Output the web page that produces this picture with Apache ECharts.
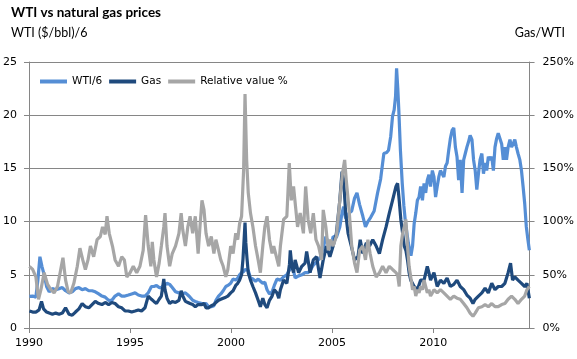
<!DOCTYPE html>
<html>
<head>
<meta charset="utf-8">
<script src="https://cdn.jsdelivr.net/npm/echarts@6/dist/echarts.min.js"></script>
<style>
html,body{margin:0;padding:0;background:#fff;}
#chart{width:577px;height:359px;}
</style>
</head>
<body>
<div id="chart"></div>
<script>
// ---- Data ----
const wtiYears = [1990.02,1990.18,1990.34,1990.44,1990.54,1990.64,1990.75,1990.87,1991.00,1991.16,1991.32,1991.49,1991.65,1991.81,1991.98,1992.14,1992.30,1992.47,1992.63,1992.79,1992.96,1993.12,1993.28,1993.45,1993.61,1993.77,1993.94,1994.10,1994.26,1994.43,1994.59,1994.75,1994.92,1995.08,1995.25,1995.41,1995.57,1995.74,1995.90,1996.06,1996.18,1996.31,1996.44,1996.55,1996.67,1996.83,1996.96,1997.09,1997.25,1997.42,1997.53,1997.74,1997.86,1997.97,1998.10,1998.23,1998.37,1998.56,1998.76,1998.89,1999.02,1999.15,1999.25,1999.38,1999.49,1999.61,1999.74,1999.84,1999.98,2000.10,2000.23,2000.33,2000.42,2000.52,2000.62,2000.69,2000.77,2000.85,2000.96,2001.08,2001.21,2001.34,2001.45,2001.57,2001.67,2001.78,2001.90,2002.03,2002.14,2002.27,2002.44,2002.60,2002.76,2002.93,2003.01,2003.09,2003.17,2003.34,2003.50,2003.66,2003.81,2003.94,2004.07,2004.23,2004.40,2004.56,2004.69,2004.81,2004.92,2005.05,2005.21,2005.38,2005.49,2005.57,2005.67,2005.84,2005.97,2006.11,2006.23,2006.36,2006.52,2006.65,2006.77,2006.91,2007.08,2007.25,2007.40,2007.56,2007.70,2007.79,2007.90,2007.99,2008.07,2008.14,2008.19,2008.25,2008.30,2008.38,2008.47,2008.55,2008.63,2008.77,2008.90,2008.98,2009.06,2009.14,2009.22,2009.30,2009.38,2009.47,2009.55,2009.63,2009.71,2009.79,2009.87,2009.96,2010.04,2010.12,2010.20,2010.28,2010.36,2010.53,2010.61,2010.69,2010.77,2010.85,2010.94,2011.02,2011.10,2011.18,2011.26,2011.34,2011.43,2011.51,2011.59,2011.67,2011.75,2011.83,2011.92,2012.00,2012.08,2012.16,2012.24,2012.32,2012.41,2012.49,2012.57,2012.65,2012.73,2012.81,2012.90,2012.98,2013.06,2013.14,2013.22,2013.31,2013.39,2013.47,2013.55,2013.63,2013.71,2013.80,2013.88,2013.96,2014.04,2014.12,2014.20,2014.29,2014.37,2014.45,2014.53,2014.61,2014.69,2014.76];
const wtiValues = [2.97,3.0,2.9,4.5,6.7,5.8,5.0,3.9,3.4,3.7,3.6,3.7,3.8,3.5,3.3,3.4,3.7,3.8,3.6,3.7,3.5,3.5,3.4,3.2,3.0,2.9,2.6,2.6,3.0,3.2,3.0,3.0,3.1,3.2,3.3,3.1,3.0,3.0,3.3,3.9,3.9,4.0,3.8,3.8,4.0,4.2,4.1,3.8,3.4,3.3,3.2,3.3,3.1,2.9,2.6,2.5,2.4,2.3,2.3,2.0,2.0,2.1,2.6,3.0,3.2,3.5,3.9,4.0,4.2,4.6,4.5,4.7,5.0,5.2,5.3,5.5,5.6,5.4,4.7,4.6,4.4,4.6,4.4,4.2,4.3,3.6,3.2,3.4,4.0,4.6,4.5,4.8,5.0,5.6,6.0,5.4,4.7,4.9,5.0,5.2,5.2,5.5,5.9,6.2,6.6,7.5,8.6,8.0,7.5,8.6,8.5,9.5,10.8,11.4,10.3,10.8,11.0,12.2,12.7,11.6,10.5,9.5,10.0,10.4,11.0,12.7,14.0,16.4,16.5,16.7,18.0,19.9,20.5,21.8,24.4,22.5,20.5,16.7,13.6,11.5,9.9,8.0,6.8,7.7,9.8,10.8,12.0,12.3,13.3,12.0,13.6,12.7,13.9,14.4,13.3,14.8,14.2,12.3,13.3,14.2,14.8,14.2,15.2,15.5,16.7,17.8,18.6,18.8,17.0,16.1,13.9,15.8,12.7,15.8,16.4,17.0,17.5,18.1,17.7,15.8,14.8,13.0,14.5,15.8,16.4,14.5,15.5,14.8,16.1,15.8,16.1,14.8,17.0,17.8,18.3,18.4,17.3,15.8,17.0,15.8,17.0,17.7,17.0,17.3,17.7,17.0,16.4,15.8,14.8,13.3,11.7,9.5,8.3,7.3];

const gasYears = [1990.02,1990.18,1990.34,1990.50,1990.62,1990.72,1990.87,1991.00,1991.16,1991.32,1991.49,1991.65,1991.81,1991.98,1992.14,1992.30,1992.47,1992.63,1992.79,1992.96,1993.12,1993.28,1993.45,1993.61,1993.77,1993.94,1994.10,1994.26,1994.43,1994.59,1994.75,1994.92,1995.08,1995.25,1995.41,1995.57,1995.74,1995.90,1996.06,1996.18,1996.31,1996.44,1996.55,1996.62,1996.67,1996.73,1996.83,1996.96,1997.09,1997.25,1997.42,1997.53,1997.61,1997.74,1997.86,1997.97,1998.10,1998.23,1998.37,1998.46,1998.56,1998.66,1998.76,1998.89,1999.02,1999.15,1999.25,1999.38,1999.49,1999.61,1999.74,1999.84,1999.98,2000.10,2000.23,2000.33,2000.42,2000.52,2000.59,2000.65,2000.69,2000.73,2000.79,2000.85,2000.96,2001.08,2001.21,2001.34,2001.45,2001.57,2001.67,2001.78,2001.90,2002.03,2002.14,2002.27,2002.36,2002.44,2002.60,2002.76,2002.89,2002.93,2003.01,2003.09,2003.17,2003.34,2003.50,2003.66,2003.74,2003.91,2004.07,2004.23,2004.40,2004.56,2004.72,2004.89,2005.05,2005.21,2005.38,2005.49,2005.57,2005.67,2005.79,2005.95,2006.11,2006.28,2006.39,2006.52,2006.69,2006.85,2007.01,2007.18,2007.34,2007.50,2007.67,2007.83,2007.99,2008.16,2008.24,2008.32,2008.40,2008.49,2008.57,2008.65,2008.73,2008.81,2008.89,2009.06,2009.22,2009.38,2009.55,2009.71,2009.79,2009.87,2010.04,2010.20,2010.36,2010.53,2010.69,2010.85,2011.02,2011.18,2011.34,2011.51,2011.67,2011.83,2011.97,2012.08,2012.24,2012.41,2012.57,2012.73,2012.90,2013.06,2013.22,2013.39,2013.55,2013.71,2013.83,2013.93,2014.04,2014.20,2014.37,2014.53,2014.64,2014.76];
const gasValues = [1.6,1.5,1.5,1.7,2.5,1.8,1.5,1.4,1.3,1.4,1.3,1.4,1.9,1.3,1.2,1.5,1.8,2.3,2.0,1.9,2.2,2.5,2.3,2.2,2.4,2.2,2.4,2.3,2.0,1.9,1.6,1.6,1.5,1.6,1.7,1.6,1.9,3.0,2.7,2.5,2.3,2.7,3.0,3.9,4.6,3.6,2.8,2.3,2.5,2.4,2.6,3.5,3.0,2.5,2.4,2.3,2.2,2.0,2.2,2.1,2.2,2.3,1.9,1.9,2.1,2.2,2.4,2.6,2.7,2.8,2.9,3.0,3.3,3.5,4.0,4.2,4.5,5.0,6.5,8.5,9.9,8.0,6.5,5.2,4.5,3.9,3.3,2.6,2.0,2.8,2.2,1.9,2.6,3.0,3.6,3.3,2.8,3.6,4.5,4.2,6.0,7.3,5.8,5.2,6.4,5.2,5.8,6.1,7.2,5.2,6.4,6.7,4.7,6.4,7.7,6.7,7.7,8.9,12.0,14.7,13.9,10.8,8.9,7.7,6.4,6.7,8.3,7.0,8.0,7.7,8.3,7.7,7.0,8.3,9.5,10.8,12.0,13.3,13.6,12.0,10.2,8.9,7.7,7.3,6.4,5.2,4.5,3.9,3.6,4.5,4.5,5.8,5.2,4.5,5.2,3.9,4.5,4.2,4.7,3.9,4.1,4.5,3.9,3.6,3.1,2.8,2.3,2.7,3.0,3.3,3.75,3.3,4.2,3.6,3.9,3.9,4.2,5.2,6.1,4.5,4.8,4.5,4.2,3.9,4.2,2.8];

const relYears = [1990.02,1990.18,1990.34,1990.47,1990.59,1990.75,1990.92,1991.08,1991.24,1991.41,1991.57,1991.68,1991.81,1991.94,1992.06,1992.22,1992.39,1992.52,1992.66,1992.79,1992.92,1993.04,1993.20,1993.37,1993.53,1993.64,1993.77,1993.86,1993.97,1994.13,1994.26,1994.43,1994.59,1994.72,1994.84,1995.00,1995.16,1995.33,1995.49,1995.65,1995.77,1995.90,1996.03,1996.10,1996.18,1996.31,1996.44,1996.55,1996.67,1996.73,1996.83,1996.96,1997.09,1997.25,1997.42,1997.53,1997.61,1997.74,1997.86,1997.97,1998.10,1998.23,1998.37,1998.46,1998.56,1998.66,1998.76,1998.89,1999.02,1999.15,1999.25,1999.38,1999.49,1999.61,1999.74,1999.84,1999.98,2000.10,2000.23,2000.33,2000.42,2000.52,2000.62,2000.69,2000.77,2000.85,2000.96,2001.08,2001.21,2001.34,2001.45,2001.57,2001.67,2001.78,2001.90,2002.03,2002.11,2002.24,2002.36,2002.44,2002.60,2002.76,2002.88,2002.98,2003.09,2003.19,2003.29,2003.42,2003.58,2003.69,2003.81,2003.94,2004.07,2004.20,2004.33,2004.48,2004.56,2004.69,2004.81,2004.92,2005.05,2005.21,2005.38,2005.51,2005.62,2005.70,2005.84,2005.97,2006.11,2006.23,2006.36,2006.52,2006.65,2006.77,2006.88,2007.01,2007.18,2007.34,2007.50,2007.67,2007.83,2007.99,2008.16,2008.24,2008.32,2008.40,2008.49,2008.57,2008.65,2008.73,2008.81,2008.89,2008.98,2009.06,2009.14,2009.22,2009.30,2009.38,2009.47,2009.55,2009.63,2009.71,2009.79,2009.87,2009.96,2010.04,2010.20,2010.36,2010.53,2010.69,2010.85,2011.02,2011.18,2011.34,2011.51,2011.67,2011.83,2011.97,2012.08,2012.24,2012.41,2012.57,2012.73,2012.90,2013.06,2013.22,2013.39,2013.55,2013.71,2013.88,2014.04,2014.20,2014.37,2014.53,2014.64,2014.76];
const relValues = [58,55,48,27,36,52,41,36,33,39,55,66,45,34,33,42,58,75,64,55,64,77,67,83,86,95,88,105,89,77,64,58,67,64,48,52,58,52,58,73,106,77,58,81,64,48,61,77,95,108,77,58,70,77,89,108,92,77,95,105,89,105,70,95,120,111,89,77,86,70,83,73,64,58,48,55,77,70,89,83,98,105,148,220,158,127,108,95,77,64,52,77,95,105,83,70,77,67,58,77,102,105,155,120,133,114,95,108,89,133,102,89,108,83,77,64,111,95,73,83,77,86,120,145,158,139,111,77,61,52,73,77,64,83,70,58,48,52,58,52,58,55,52,50,39,77,89,95,102,77,58,48,36,39,30,36,33,39,36,45,39,33,36,30,33,36,33,36,33,30,27,30,28,27,23,19,14,11,14,19,20,22,20,23,20,20,22,23,27,30,27,23,27,30,36,39];

// ---- Styles ----
const cWti = '#558ED5', cGas = '#1F4A7D', cRel = '#A6A6A6';
const axisColor = '#868686';
const labelFont = 'DejaVu Sans';

function pairs(xs, ys) { return xs.map((x, i) => [x, ys[i]]); }

const chart = echarts.init(document.getElementById('chart'), null, {renderer: 'canvas'});
chart.setOption({
  animation: false,
  backgroundColor: '#ffffff',
  title: [
    {text: 'WTI vs natural gas prices', left: 11, top: 6, padding: 0,
     textStyle: {fontFamily: 'Lato', fontWeight: 'bold', fontSize: 13.5, color: '#000'}},
    {text: 'WTI ($/bbl)/6', left: 11, top: 26, padding: 0,
     textStyle: {fontFamily: 'Lato', fontWeight: 'normal', fontSize: 12.5, color: '#000'}},
    {text: 'Gas/WTI', right: 12, top: 26, padding: 0,
     textStyle: {fontFamily: 'Lato', fontWeight: 'normal', fontSize: 12.5, color: '#000'}}
  ],
  legend: {
    left: 40, top: 76, padding: 0,
    icon: 'rect', itemWidth: 27, itemHeight: 4, itemGap: 7,
    textStyle: {fontFamily: labelFont, fontSize: 10.5, color: '#000'},
    data: ['WTI/6', 'Gas', 'Relative value %']
  },
  grid: {left: 25, right: 47, top: 62, bottom: 31, containLabel: false},
  xAxis: {
    type: 'value', min: 1990, max: 2014.77, interval: 5,
    axisLine: {show: true, onZero: false, lineStyle: {color: axisColor}},
    axisTick: {show: true, length: 5, lineStyle: {color: axisColor}},
    axisLabel: {fontFamily: labelFont, fontSize: 11, color: '#000', margin: 10, showMaxLabel: false,
                formatter: function (v) { return String(Math.round(v)); }},
    splitLine: {show: false}
  },
  yAxis: [
    {type: 'value', min: 0, max: 25, interval: 5, position: 'left',
     axisLine: {show: true, lineStyle: {color: axisColor}},
     axisTick: {show: true, length: 5, lineStyle: {color: axisColor}},
     axisLabel: {fontFamily: labelFont, fontSize: 11, color: '#000', margin: 12},
     splitLine: {show: true, lineStyle: {color: axisColor, width: 1}}},
    {type: 'value', min: 0, max: 250, interval: 50, position: 'right',
     axisLine: {show: true, lineStyle: {color: axisColor}},
     axisTick: {show: true, length: 5, lineStyle: {color: axisColor}},
     axisLabel: {fontFamily: labelFont, fontSize: 11, color: '#000', margin: 13, formatter: '{value}%'},
     splitLine: {show: false}}
  ],
  series: [
    {name: 'WTI/6', type: 'line', yAxisIndex: 0, showSymbol: false, data: pairs(wtiYears, wtiValues),
     lineStyle: {color: cWti, width: 3.2}, itemStyle: {color: cWti}, z: 2},
    {name: 'Gas', type: 'line', yAxisIndex: 0, showSymbol: false, data: pairs(gasYears, gasValues),
     lineStyle: {color: cGas, width: 3.2}, itemStyle: {color: cGas}, z: 3},
    {name: 'Relative value %', type: 'line', yAxisIndex: 1, showSymbol: false, data: pairs(relYears, relValues),
     lineStyle: {color: cRel, width: 3.2}, itemStyle: {color: cRel}, z: 4}
  ]
});
</script>
</body>
</html>
